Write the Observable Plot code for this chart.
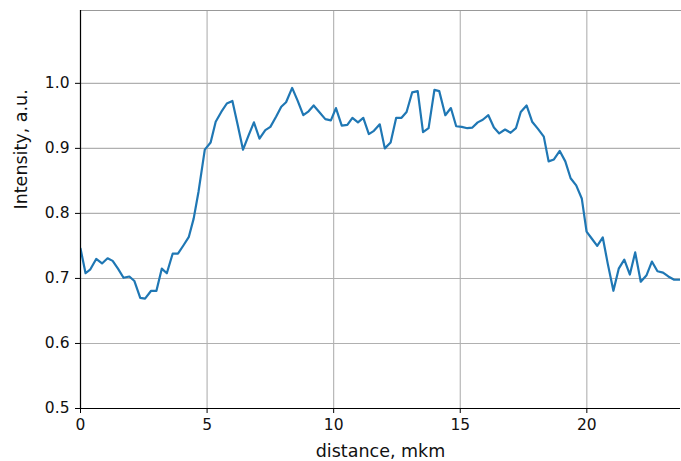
<!DOCTYPE html>
<html>
<head>
<meta charset="utf-8">
<script src="https://cdn.jsdelivr.net/npm/d3@7"></script>
<script src="https://cdn.jsdelivr.net/npm/@observablehq/plot@0.6"></script>
<style>
  html, body { margin: 0; padding: 0; background: #fff; }
  #chart { width: 681px; height: 461px; }
</style>
</head>
<body>
<div id="chart"></div>
<script>
const distance = [
  0.00, 0.20, 0.39, 0.62, 0.85, 1.07, 1.27, 1.48, 1.70, 1.93,
  2.13, 2.36, 2.55, 2.79, 3.00, 3.21, 3.41, 3.64, 3.85, 4.07,
  4.28, 4.47, 4.66, 4.91, 5.14, 5.34, 5.56, 5.78, 6.00, 6.21,
  6.42, 6.64, 6.85, 7.07, 7.30, 7.50, 7.73, 7.93, 8.12, 8.36,
  8.58, 8.80, 9.01, 9.21, 9.43, 9.67, 9.89, 10.09, 10.32, 10.54,
  10.74, 10.96, 11.17, 11.39, 11.59, 11.82, 12.02, 12.25, 12.47, 12.68,
  12.88, 13.10, 13.32, 13.53, 13.75, 13.98, 14.17, 14.41, 14.63, 14.84,
  15.06, 15.28, 15.48, 15.69, 15.89, 16.11, 16.33, 16.54, 16.77, 16.99,
  17.20, 17.39, 17.62, 17.84, 18.07, 18.30, 18.49, 18.70, 18.93, 19.15,
  19.36, 19.58, 19.80, 19.99, 20.20, 20.41, 20.63, 20.83, 21.05, 21.26,
  21.48, 21.70, 21.91, 22.13, 22.36, 22.57, 22.79, 23.01, 23.22, 23.45,
  23.70
];
const intensity = [
  0.746, 0.708, 0.714, 0.730, 0.723, 0.731, 0.727, 0.715, 0.701, 0.703,
  0.696, 0.670, 0.669, 0.681, 0.681, 0.715, 0.708, 0.738, 0.738, 0.751,
  0.764, 0.792, 0.833, 0.898, 0.909, 0.941, 0.956, 0.969, 0.973, 0.936,
  0.898, 0.920, 0.940, 0.915, 0.928, 0.933, 0.949, 0.964, 0.971, 0.993,
  0.973, 0.951, 0.957, 0.966, 0.956, 0.945, 0.943, 0.962, 0.935, 0.936,
  0.947, 0.940, 0.947, 0.922, 0.927, 0.937, 0.900, 0.909, 0.947, 0.947,
  0.956, 0.986, 0.988, 0.925, 0.931, 0.990, 0.988, 0.951, 0.962, 0.934,
  0.933, 0.931, 0.932, 0.940, 0.944, 0.951, 0.932, 0.923, 0.929, 0.924,
  0.931, 0.956, 0.966, 0.941, 0.930, 0.918, 0.880, 0.883, 0.896, 0.880,
  0.854, 0.843, 0.823, 0.772, 0.761, 0.750, 0.763, 0.722, 0.681, 0.715,
  0.729, 0.706, 0.740, 0.695, 0.705, 0.726, 0.711, 0.709, 0.703, 0.698,
  0.698
];
const xTicks = [0, 5, 10, 15, 20];
const yTicks = [0.5, 0.6, 0.7, 0.8, 0.9, 1.0];
const xLabel = "distance, mkm";
const yLabel = "Intensity, a.u.";

const data = distance.map((d, i) => ({x: d, y: intensity[i]}));

const chart = Plot.plot({
  width: 681,
  height: 461,
  marginLeft: 80,
  marginRight: 1,
  marginTop: 10,
  marginBottom: 53,
  style: {fontFamily: "DejaVu Sans", background: "#fff"},
  x: {domain: [0, 23.7]},
  y: {domain: [0.5, 1.112]},
  marks: [
    Plot.gridX(xTicks, {stroke: "#b0b0b0", strokeOpacity: 1, strokeWidth: 1.1}),
    Plot.gridY(yTicks, {stroke: "#b0b0b0", strokeOpacity: 1, strokeWidth: 1.1}),
    Plot.frame({anchor: "top", stroke: "#999", strokeWidth: 1.1}),
    Plot.line(data, {x: "x", y: "y", stroke: "#1f77b4", strokeWidth: 2.2, clip: true}),
    Plot.ruleX([0], {stroke: "#000", strokeWidth: 1.2}),
    Plot.ruleY([0.5], {stroke: "#000", strokeWidth: 1.2}),
    Plot.axisX(xTicks, {tickSize: 5, tickPadding: 5, fontSize: 15.5, label: null, fill: "#111"}),
    Plot.axisY(yTicks, {tickSize: 5, tickPadding: 6, fontSize: 15.5, label: null, fill: "#111", tickFormat: d3.format(".1f")}),
    Plot.text([xLabel], {frameAnchor: "bottom", dy: 43, fontSize: 17.5, fill: "#111", lineAnchor: "middle"}),
    Plot.text([yLabel], {frameAnchor: "left", dx: -59, rotate: -90, fontSize: 17.5, fill: "#111", lineAnchor: "middle"})
  ]
});
document.getElementById("chart").appendChild(chart);
</script>
</body>
</html>
